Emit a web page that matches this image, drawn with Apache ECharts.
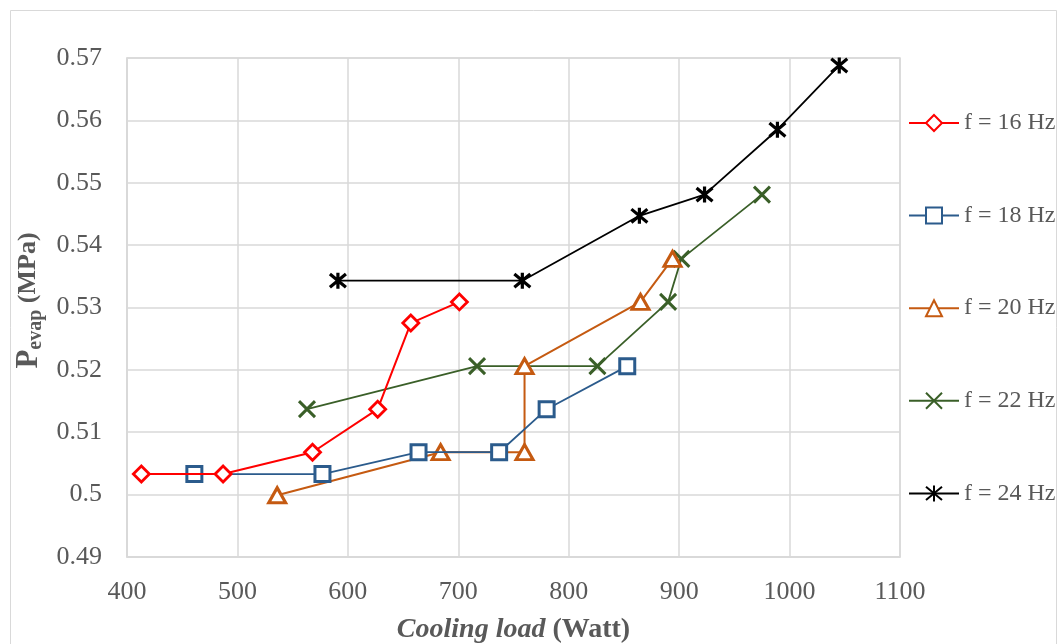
<!DOCTYPE html>
<html><head><meta charset="utf-8">
<script src="https://cdn.jsdelivr.net/npm/echarts@6/dist/echarts.min.js"></script>
<style>html,body{margin:0;padding:0;background:#fff}#c{width:1058px;height:644px}</style>
</head><body><div id="c"></div>
<script>
// ---- data ----
const seriesNames = ['f = 16 Hz', 'f = 18 Hz', 'f = 20 Hz', 'f = 22 Hz', 'f = 24 Hz'];
const load16 = [413, 487, 568, 627, 657, 701];
const pevap16 = [0.5033, 0.5033, 0.5068, 0.5137, 0.5275, 0.5309];
const load18 = [461, 577, 664, 737, 780, 853];
const pevap18 = [0.5033, 0.5033, 0.5068, 0.5068, 0.5137, 0.5206];
const load20 = [536, 684, 760, 760, 865, 894];
const pevap20 = [0.4999, 0.5068, 0.5068, 0.5206, 0.5309, 0.5378];
const load22 = [563, 717, 826, 890, 902, 975];
const pevap22 = [0.5137, 0.5206, 0.5206, 0.5309, 0.5378, 0.5481];
const load24 = [591, 758, 864, 923, 989, 1045];
const pevap24 = [0.5343, 0.5343, 0.5447, 0.5481, 0.5585, 0.5688];
const xTicks = [400, 500, 600, 700, 800, 900, 1000, 1100];
const yTicks = [0.49, 0.50, 0.51, 0.52, 0.53, 0.54, 0.55, 0.56, 0.57];

const FONT = 'Liberation Serif';
const TXT = '#595959';
const GRID = '#d9d9d9';

function mk(name, xs, ys, color, symbol, size, lw, bw, fill, z) {
  return {
    type: 'line', name: name,
    data: xs.map((x, i) => [x, ys[i]]),
    symbol: symbol, symbolSize: size,
    lineStyle: { color: color, width: lw },
    itemStyle: { color: fill, borderColor: color, borderWidth: bw },
    emphasis: { disabled: true },
    z: z
  };
}

const XPATH = 'path://M0,0L10,10M10,0L0,10';
const STARPATH = 'path://M0,0L10,10M10,0L0,10M5,-1L5,11';

const chart = echarts.init(document.getElementById('c'), null, { renderer: 'canvas' });
chart.setOption({
  animation: false,
  backgroundColor: '#fff',
  graphic: [{
    type: 'rect', silent: true, z: -10,
    shape: { x: 10.5, y: 10.5, width: 1046, height: 660 },
    style: { fill: 'none', stroke: GRID, lineWidth: 1 }
  }],
  grid: { left: 127, top: 58, width: 773, height: 499, show: true, borderColor: GRID, borderWidth: 1.5,
    outerBoundsMode: 'none', containLabel: false },
  xAxis: {
    type: 'value', min: xTicks[0], max: xTicks[xTicks.length - 1], interval: xTicks[1] - xTicks[0],
    axisLine: { show: true, lineStyle: { color: GRID, width: 1.5 } },
    axisTick: { show: false },
    splitLine: { show: true, lineStyle: { color: GRID, width: 1.5 } },
    axisLabel: { fontFamily: FONT, fontSize: 26, color: TXT, margin: 22, formatter: v => String(v) },
    name: '{i|Cooling load }{b|(Watt)}',
    nameLocation: 'middle', nameGap: 59,
    nameTextStyle: {
      rich: {
        i: { fontFamily: FONT, fontSize: 28, fontWeight: 'bold', fontStyle: 'italic', color: TXT },
        b: { fontFamily: FONT, fontSize: 28, fontWeight: 'bold', color: TXT }
      }
    }
  },
  yAxis: {
    type: 'value', min: yTicks[0], max: yTicks[yTicks.length - 1], interval: 0.01,
    axisLine: { show: true, lineStyle: { color: GRID, width: 1.5 } },
    axisTick: { show: false },
    splitLine: { show: true, lineStyle: { color: GRID, width: 1.5 } },
    axisLabel: { fontFamily: FONT, fontSize: 26, color: TXT, margin: 25,
      formatter: v => String(+v.toFixed(2)) },
    name: '{p|P}{s|evap}{m| (MPa)}',
    nameLocation: 'middle', nameGap: 73,
    nameTextStyle: {
      padding: [0, 0, 0, 14],
      rich: {
        p: { fontFamily: FONT, fontSize: 31, fontWeight: 'bold', color: TXT, lineHeight: 34 },
        s: { fontFamily: FONT, fontSize: 20, fontWeight: 'bold', color: TXT, verticalAlign: 'bottom', lineHeight: 20 },
        m: { fontFamily: FONT, fontSize: 26, fontWeight: 'bold', color: TXT, lineHeight: 34 }
      }
    }
  },
  legend: {
    data: seriesNames,
    orient: 'vertical', left: 903, top: 106,
    itemWidth: 50, itemHeight: 20, itemGap: 68.6,
    textStyle: { fontFamily: FONT, fontSize: 24, color: TXT, lineHeight: 24 },
    selectedMode: false
  },
  series: [
    mk(seriesNames[0], load16, pevap16, '#FF0000', 'diamond', 16, 2, 2.8, '#ffffff', 6),
    mk(seriesNames[1], load18, pevap18, '#2B5B8C', 'rect', 15, 1.8, 3, '#ffffff', 5),
    mk(seriesNames[2], load20, pevap20, '#C55A11', 'triangle', [17, 15], 2, 3, '#ffffff', 4),
    mk(seriesNames[3], load22, pevap22, '#3A5F28', XPATH, 16, 1.8, 3, 'rgba(0,0,0,0)', 3),
    mk(seriesNames[4], load24, pevap24, '#000000', STARPATH, 16, 1.8, 3.2, 'rgba(0,0,0,0)', 7)
  ]
});
</script>
</body></html>
